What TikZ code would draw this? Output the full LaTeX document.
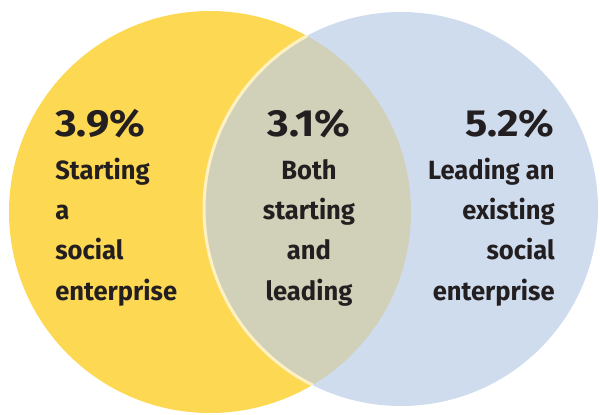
\documentclass[tikz,border=0pt]{standalone}
\usepackage{fontspec}
\setmainfont{Fira Sans}[FakeStretch=0.97]
\newfontfamily\pctfont{Fira Sans}[FakeStretch=1.1]
\definecolor{startyellow}{HTML}{FDD853}
\definecolor{leadblue}{HTML}{CFDCEE}
\definecolor{bothgrey}{HTML}{D1D1B9}
\definecolor{rimcream}{HTML}{FFF1C2}
\definecolor{labelink}{HTML}{231F20}
\tikzset{
	pct/.style={inner sep=0pt, text=labelink, font=\pctfont\bfseries\fontsize{21.5}{24}\selectfont},
	desc/.style={inner sep=0pt, text=labelink, font=\bfseries\fontsize{15}{22.8}\selectfont}
}
\begin{document}
\begin{tikzpicture}[x=0.02cm, y=-0.02cm]
	% picture frame, in pixels of the reference
	\useasboundingbox (0,0) rectangle (600,414);
	% circles
	\fill [startyellow] (210,212) circle (201);
	\fill [leadblue] (401,209) circle (197);
	% overlap with its light rim
	\begin{scope}
		\clip (210,212) circle (201);
		\fill [bothgrey] (401,209) circle (197);
		\draw [rimcream, line width=0.06cm] (401,209) circle (197);
	\end{scope}
	% left set
	\node [pct, anchor=base west] (startpct) at (55,136) {3.9\%};
	\node [desc, anchor=base west, align=left] (starttxt) at (55,300)
		{Starting\\a\\social\\enterprise};
	% both sets
	\node [pct, anchor=base] (bothpct) at (309,136) {3.1\%};
	\node [desc, anchor=base, align=center] (bothtxt) at (309,300)
		{Both\\starting\\and\\leading};
	% right set
	\node [pct, anchor=base east] (leadpct) at (555,136) {5.2\%};
	\node [desc, anchor=base east, align=right] (leadtxt) at (555,300)
		{Leading an\\existing\\social\\enterprise};
\end{tikzpicture}
\end{document}
